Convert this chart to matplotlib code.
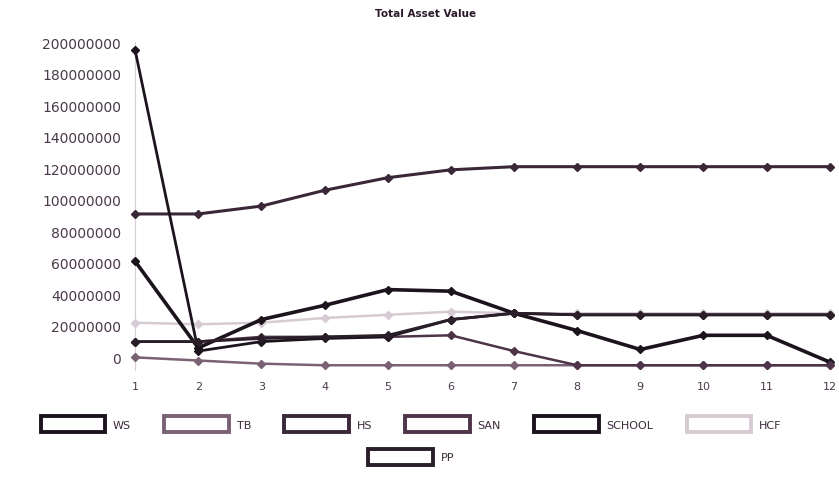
import matplotlib.pyplot as plt
from matplotlib.patches import Patch

# data (values in rupees)
periods = [1, 2, 3, 4, 5, 6, 7, 8, 9, 10, 11, 12]
ws = [61e6, 6e6, 24e6, 33e6, 43e6, 42e6, 28e6, 17e6, 5e6, 14e6, 14e6, -3e6]
tb = [0, -2e6, -4e6, -5e6, -5e6, -5e6, -5e6, -5e6, -5e6, -5e6, -5e6, -5e6]
hs = [91e6, 91e6, 96e6, 106e6, 114e6, 119e6, 121e6, 121e6, 121e6, 121e6, 121e6, 121e6]
san = [10e6, 10e6, 13e6, 13e6, 13e6, 14e6, 4e6, -5e6, -5e6, -5e6, -5e6, -5e6]
school = [195e6, 4e6, 10e6, 12e6, 13e6, 24e6, 28e6, 27e6, 27e6, 27e6, 27e6, 27e6]
hcf = [22e6, 21e6, 22e6, 25e6, 27e6, 29e6, 28e6, 28e6, 28e6, 28e6, 28e6, 28e6]
pp = [10e6, 10e6, 12e6, 13e6, 14e6, 24e6, 28e6, 27e6, 27e6, 27e6, 27e6, 27e6]

y_ticks = [0, 20e6, 40e6, 60e6, 80e6, 100e6, 120e6, 140e6, 160e6, 180e6, 200e6]

series = [
    ('WS', ws, '#1c141c', 2.6),
    ('TB', tb, '#7a6274', 1.8),
    ('HS', hs, '#3a2838', 2.2),
    ('SAN', san, '#4e3449', 1.8),
    ('SCHOOL', school, '#1c141c', 2.0),
    ('HCF', hcf, '#d6cbd3', 1.8),
    ('PP', pp, '#2a1e28', 2.0),
]

fig = plt.figure(figsize=(8.39, 5.02), dpi=100)
ax = fig.add_axes([0.161, 0.261, 0.828, 0.653])

for name, vals, color, lw in series:
    ax.plot(periods, vals, color=color, linewidth=lw, marker='D',
            markersize=4.5, clip_on=False, zorder=2 if name == 'HCF' else 3)

ax.set_xlim(1, 12)
ax.set_ylim(-8e6, 200e6)
ax.set_yticks(y_ticks)
ax.set_yticklabels([f'{int(v)}' for v in y_ticks])
ax.set_xticks(periods)
ax.set_xticklabels([str(p) for p in periods])

for side in ['top', 'right', 'bottom']:
    ax.spines[side].set_visible(False)
ax.spines['left'].set_color('#d8ccd6')
ax.tick_params(axis='both', length=0, colors='#4a3a4a')
ax.tick_params(axis='y', labelsize=10, pad=10)
ax.tick_params(axis='x', labelsize=8, pad=8)

fig.text(0.507, 0.972, 'Total Asset Value', ha='center', va='center',
         fontsize=7.5, fontweight='bold', color='#2a1a2a')

# legend: Excel style hollow boxes
handles = [Patch(facecolor='white', edgecolor=c, linewidth=2.8) for _, _, c, _ in series]
labels = [s[0] for s in series]
kw = dict(frameon=False, fontsize=8, handlelength=5.8, handleheight=1.8,
          handletextpad=0.7, labelcolor='#3a2a3a')
fig.legend(handles[:6], labels[:6], loc='center', bbox_to_anchor=(0.49, 0.153),
           ncol=6, columnspacing=3.0, **kw)
fig.legend(handles[6:], labels[6:], loc='center', bbox_to_anchor=(0.49, 0.088), **kw)

fig.savefig('out.png', dpi=100, facecolor='white')
